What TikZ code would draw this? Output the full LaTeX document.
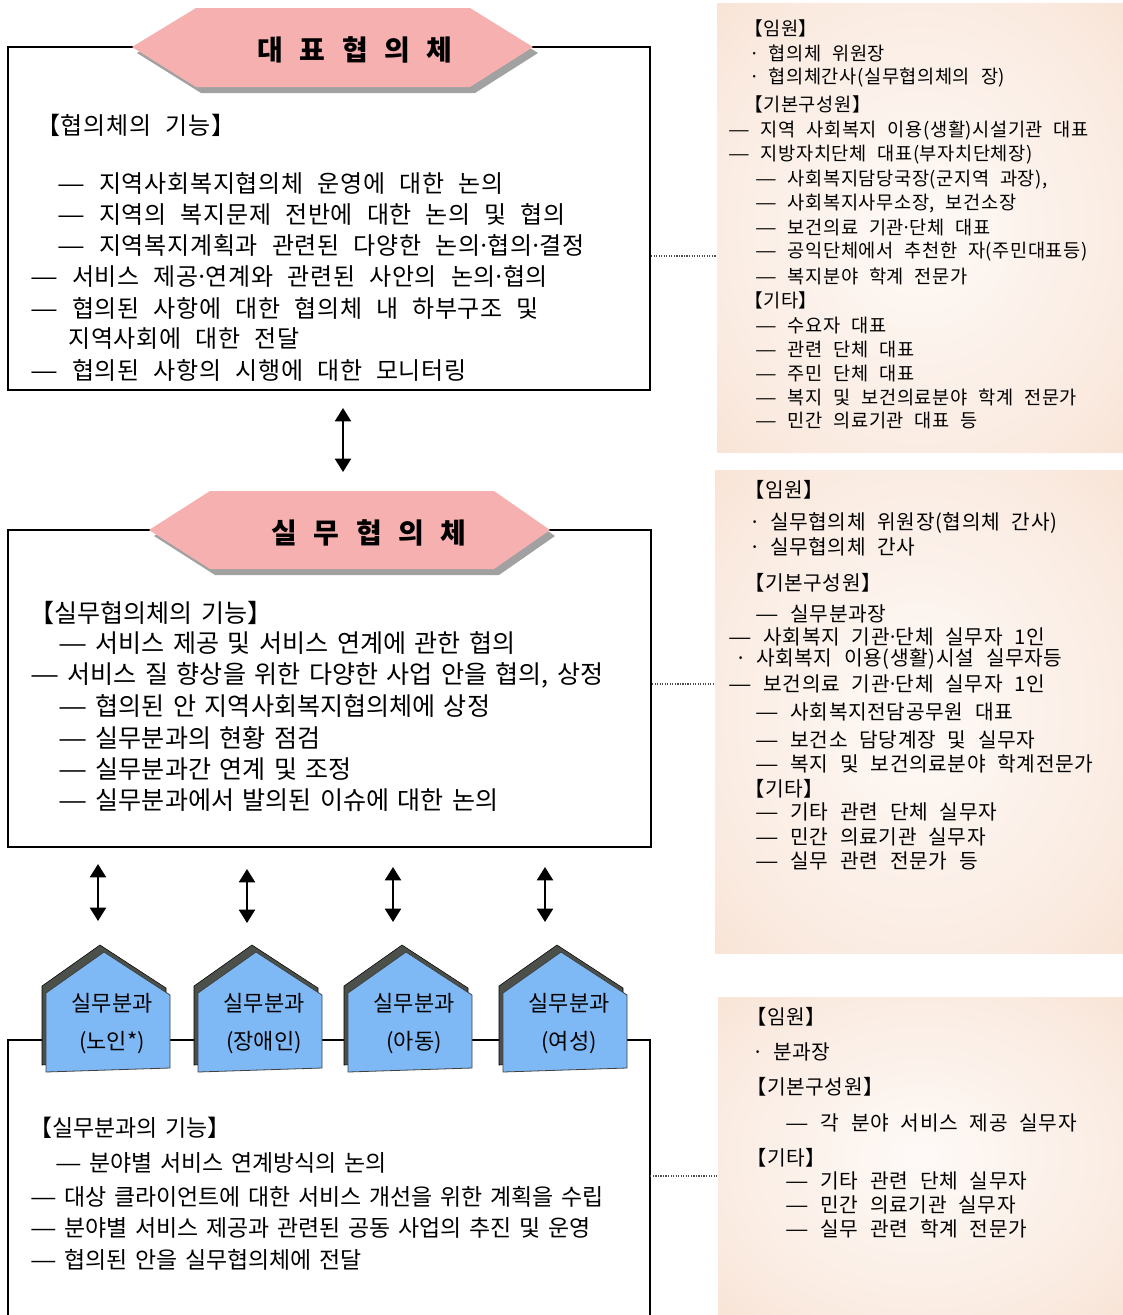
\documentclass[tikz,border=0pt]{standalone}
\usepackage{graphicx}
\usepackage{fontspec}
\setmainfont{Noto Sans CJK KR}[WordSpace=1.5]
\newfontfamily\widekr{Noto Sans CJK KR}[WordSpace=2.3,LetterSpace=3]
\usepackage{tikz}
\usetikzlibrary{arrows.meta}
\usetikzlibrary{calc}
\definecolor{peach}{RGB}{246,217,198}
\definecolor{titlepink}{RGB}{247,176,176}
\definecolor{houseblue}{RGB}{127,185,245}
\definecolor{housedark}{RGB}{75,80,75}
\pgfdeclareradialshading{peachglow}{\pgfpoint{0bp}{0bp}}{color(0bp)=(peach!14!white); color(25bp)=(peach!50!white); color(50bp)=(peach); color(75bp)=(peach)}
\newcommand\ldash{\scalebox{1.3}[1]{—}}
\newcommand\mdot{\makebox[0.3em]{·}}

\begin{document}
\begin{tikzpicture}[x=0.75pt,y=-0.75pt,
frame/.style={shape=rectangle,draw,line width=1.5pt,inner sep=0pt},
panel/.style={shape=rectangle,inner sep=0pt,shade,shading=peachglow},
rline/.style={anchor=west,inner sep=0pt,font=\widekr\fontsize{18}{20}\selectfont},
mline/.style={anchor=west,inner sep=0pt,font=\fontsize{18.8}{20}\selectfont},
sline/.style={anchor=west,inner sep=0pt,font=\fontsize{17.2}{20}\selectfont},
pline/.style={anchor=west,inner sep=0pt,font=\widekr\fontsize{14}{16}\selectfont},
qline/.style={anchor=west,inner sep=0pt,font=\widekr\fontsize{15.2}{17}\selectfont},
title/.style={font=\widekr\bfseries\fontsize{21}{24}\selectfont},
housetext/.style={align=center,inner sep=0pt,font=\fontsize{16.5}{28.5}\selectfont},
link/.style={{Triangle[width=12pt,length=10pt]}-{Triangle[width=12pt,length=10pt]},line width=1.6pt},
dotline/.style={densely dotted,line width=0.9pt,black!70}]
\useasboundingbox (0,0) rectangle (1123,1315);
\draw (920,227.5) node (p1) [panel,minimum width=304.5pt,minimum height=336.75pt] {};
\draw (919,711.5) node (p2) [panel,minimum width=306pt,minimum height=362.25pt] {};
\draw (920.5,1156) node (p3) [panel,minimum width=303.75pt,minimum height=238.5pt] {};
\draw (329,218.5) node (rep) [frame,minimum width=481.5pt,minimum height=257.25pt] {};
\draw (329.5,688.5) node (mem) [frame,minimum width=482.25pt,minimum height=237.75pt] {};
\draw (329,1177.5) node (sub) [shape=rectangle,inner sep=0pt,minimum width=481.5pt,minimum height=206.25pt] {};
\draw[line width=1.5pt] (sub.south west) |- (sub.north east) -- (sub.south east);
\fill[black!37] (137,53) -- (201,14) -- (475,14) -- (538,53) -- (475,93) -- (201,93) -- cycle;
\fill[titlepink] (132,47) -- (196,8) -- (470,8) -- (533,47) -- (470,87) -- (196,87) -- cycle;
\draw (355,50) node (rt) [title] {대 표 협 의 체};
\fill[black!37] (154,536) -- (215,497) -- (499,497) -- (555,536) -- (499,575) -- (215,575) -- cycle;
\fill[titlepink] (149,530) -- (210,491) -- (494,491) -- (550,530) -- (494,569) -- (210,569) -- cycle;
\draw (369,533) node (mt) [title] {실 무 협 의 체};
\draw[dotline] (rep.east |- 0,256) -- (p1.west |- 0,256);
\draw[dotline] (mem.east |- 0,684) -- (p2.west |- 0,684);
\draw[dotline] (sub.east |- 0,1176) -- (p3.west |- 0,1176);
\coordinate (u0) at (343,408); \coordinate (d0) at (343,472);
\draw[link] (u0) -- (d0);
\coordinate (u1) at (98,864); \coordinate (d1) at (98,921);
\coordinate (u2) at (247,869); \coordinate (d2) at (247,923);
\coordinate (u3) at (393,867); \coordinate (d3) at (393,922);
\coordinate (u4) at (545,867); \coordinate (d4) at (545,922);
\draw[link] (u1) -- (d1);
\draw[link] (u2) -- (d2);
\draw[link] (u3) -- (d3);
\draw[link] (u4) -- (d4);
\filldraw[fill=housedark,draw=black,line width=0.4pt] (42,1065) -- (42,986) -- (100,945) -- (166,988) -- (166,1061) -- cycle;
\filldraw[fill=houseblue,draw=black!75,line width=0.6pt] (46,1072) -- (46,993) -- (104,952) -- (170,995) -- (170,1068) -- cycle;
\draw (112,1024) node (h1) [housetext] {실무분과\\(노인*)};
\filldraw[fill=housedark,draw=black,line width=0.4pt] (194,1065) -- (194,986) -- (252,945) -- (318,988) -- (318,1061) -- cycle;
\filldraw[fill=houseblue,draw=black!75,line width=0.6pt] (198,1072) -- (198,993) -- (256,952) -- (322,995) -- (322,1068) -- cycle;
\draw (264,1024) node (h2) [housetext] {실무분과\\(장애인)};
\filldraw[fill=housedark,draw=black,line width=0.4pt] (344,1065) -- (344,986) -- (402,945) -- (468,988) -- (468,1061) -- cycle;
\filldraw[fill=houseblue,draw=black!75,line width=0.6pt] (348,1072) -- (348,993) -- (406,952) -- (472,995) -- (472,1068) -- cycle;
\draw (414,1024) node (h3) [housetext] {실무분과\\(아동)};
\filldraw[fill=housedark,draw=black,line width=0.4pt] (499,1065) -- (499,986) -- (557,945) -- (623,988) -- (623,1061) -- cycle;
\filldraw[fill=houseblue,draw=black!75,line width=0.6pt] (503,1072) -- (503,993) -- (561,952) -- (627,995) -- (627,1068) -- cycle;
\draw (569,1024) node (h4) [housetext] {실무분과\\(여성)};
\draw (36,125) node (r1) [rline] {【협의체의 기능】};
\draw (57,183) node (r2) [rline] {\ldash{} 지역사회복지협의체 운영에 대한 논의};
\draw (57,214) node (r3) [rline] {\ldash{} 지역의 복지문제 전반에 대한 논의 및 협의};
\draw (57,245) node (r4) [rline] {\ldash{} 지역복지계획과 관련된 다양한 논의\mdot 협의\mdot 결정};
\draw (30,276) node (r5) [rline] {\ldash{} 서비스 제공\mdot 연계와 관련된 사안의 논의\mdot 협의};
\draw (30,308) node (r6) [rline] {\ldash{} 협의된 사항에 대한 협의체 내 하부구조 및};
\draw (68,339) node (r7) [rline] {지역사회에 대한 전달};
\draw (30,370) node (r8) [rline] {\ldash{} 협의된 사항의 시행에 대한 모니터링};
\draw (29,613) node (m1) [mline] {【실무협의체의 기능】};
\draw (58,643) node (m2) [mline] {\ldash{} 서비스 제공 및 서비스 연계에 관한 협의};
\draw (30,675) node (m3) [mline] {\ldash{} 서비스 질 향상을 위한 다양한 사업 안을 협의, 상정};
\draw (58,706) node (m4) [mline] {\ldash{} 협의된 안 지역사회복지협의체에 상정};
\draw (58,738) node (m5) [mline] {\ldash{} 실무분과의 현황 점검};
\draw (58,769) node (m6) [mline] {\ldash{} 실무분과간 연계 및 조정};
\draw (58,800) node (m7) [mline] {\ldash{} 실무분과에서 발의된 이슈에 대한 논의};
\draw (29,1128) node (s1) [sline] {【실무분과의 기능】};
\draw (55,1163) node (s2) [sline] {\ldash{} 분야별 서비스 연계방식의 논의};
\draw (30,1197) node (s3) [sline] {\ldash{} 대상 클라이언트에 대한 서비스 개선을 위한 계획을 수립};
\draw (30,1228) node (s4) [sline] {\ldash{} 분야별 서비스 제공과 관련된 공동 사업의 추진 및 운영};
\draw (30,1260) node (s5) [sline] {\ldash{} 협의된 안을 실무협의체에 전달};
\draw (744,28) node (a1) [pline] {【임원】};
\draw (752,53) node (a2) [pline] {\mdot{} 협의체 위원장};
\draw (752,78) node (a3) [pline] {\mdot{} 협의체간사(실무협의체의 장)};
\draw (744,104) node (a4) [pline] {【기본구성원】};
\draw (728,131) node (a5) [pline] {\ldash{} 지역 사회복지 이용(생활)시설기관 대표};
\draw (728,155) node (a6) [pline] {\ldash{} 지방자치단체 대표(부자치단체장)};
\draw (755,180) node (a7) [pline] {\ldash{} 사회복지담당국장(군지역 과장),};
\draw (755,204) node (a8) [pline] {\ldash{} 사회복지사무소장, 보건소장};
\draw (755,228) node (a9) [pline] {\ldash{} 보건의료 기관\mdot 단체 대표};
\draw (755,252) node (a10) [pline] {\ldash{} 공익단체에서 추천한 자(주민대표등)};
\draw (755,276) node (a11) [pline] {\ldash{} 복지분야 학계 전문가};
\draw (744,300) node (a12) [pline] {【기타】};
\draw (755,325) node (a13) [pline] {\ldash{} 수요자 대표};
\draw (755,349) node (a14) [pline] {\ldash{} 관련 단체 대표};
\draw (755,373) node (a15) [pline] {\ldash{} 주민 단체 대표};
\draw (755,397) node (a16) [pline] {\ldash{} 복지 및 보건의료분야 학계 전문가};
\draw (755,421) node (a17) [pline] {\ldash{} 민간 의료기관 대표 등};
\draw (744,490) node (b1) [qline] {【임원】};
\draw (752,523) node (b2) [qline] {\mdot{} 실무협의체 위원장(협의체 간사)};
\draw (752,547) node (b3) [qline] {\mdot{} 실무협의체 간사};
\draw (744,583) node (b4) [qline] {【기본구성원】};
\draw (755,614) node (b5) [qline] {\ldash{} 실무분과장};
\draw (728,637) node (b6) [qline] {\ldash{} 사회복지 기관\mdot 단체 실무자 1인};
\draw (738,659) node (b7) [qline] {\mdot{} 사회복지 이용(생활)시설 실무자등};
\draw (728,684) node (b8) [qline] {\ldash{} 보건의료 기관\mdot 단체 실무자 1인};
\draw (755,712) node (b9) [qline] {\ldash{} 사회복지전담공무원 대표};
\draw (755,740) node (b10) [qline] {\ldash{} 보건소 담당계장 및 실무자};
\draw (755,764) node (b11) [qline] {\ldash{} 복지 및 보건의료분야 학계전문가};
\draw (744,789) node (b12) [qline] {【기타】};
\draw (755,812) node (b13) [qline] {\ldash{} 기타 관련 단체 실무자};
\draw (755,837) node (b14) [qline] {\ldash{} 민간 의료기관 실무자};
\draw (755,861) node (b15) [qline] {\ldash{} 실무 관련 전문가 등};
\draw (746,1017) node (c1) [qline] {【임원】};
\draw (755,1052) node (c2) [qline] {\mdot{} 분과장};
\draw (746,1087) node (c3) [qline] {【기본구성원】};
\draw (785,1123) node (c4) [qline] {\ldash{} 각 분야 서비스 제공 실무자};
\draw (746,1158) node (c5) [qline] {【기타】};
\draw (785,1181) node (c6) [qline] {\ldash{} 기타 관련 단체 실무자};
\draw (785,1205) node (c7) [qline] {\ldash{} 민간 의료기관 실무자};
\draw (785,1229) node (c8) [qline] {\ldash{} 실무 관련 학계 전문가};
\end{tikzpicture}
\end{document}
